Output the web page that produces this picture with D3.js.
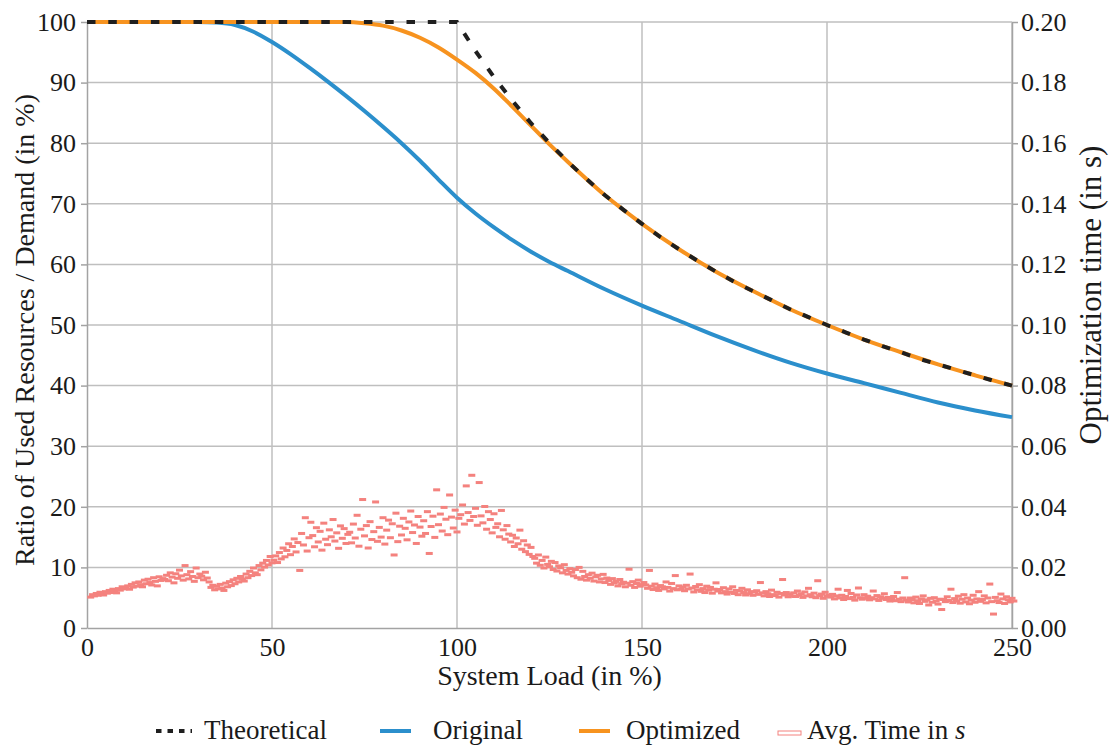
<!DOCTYPE html>
<html>
<head>
<meta charset="utf-8">
<script src="https://cdn.jsdelivr.net/npm/d3@7"></script>
<style>
  body { margin: 0; background: #fff; }
  svg { display: block; }
</style>
</head>
<body>
<svg id="chart" width="1111" height="747"></svg>
<script>
// ---- data ----
var loadTicks = [0, 50, 100, 150, 200, 250];
var ratioTicks = [0, 10, 20, 30, 40, 50, 60, 70, 80, 90, 100];
var timeTicks = [0, 0.02, 0.04, 0.06, 0.08, 0.10, 0.12, 0.14, 0.16, 0.18, 0.20];

var theoreticalLoad = [0, 100, 105, 110, 115, 120, 125, 130, 135, 140, 145, 150, 155, 160, 165, 170, 175, 180, 185, 190, 195, 200, 205, 210, 215, 220, 225, 230, 235, 240, 245, 250];
var theoreticalRatio = [100, 100, 95.2, 90.9, 87.0, 83.3, 80.0, 76.9, 74.1, 71.4, 69.0, 66.7, 64.5, 62.5, 60.6, 58.8, 57.1, 55.6, 54.1, 52.6, 51.3, 50.0, 48.8, 47.6, 46.5, 45.5, 44.4, 43.5, 42.6, 41.7, 40.8, 40.0];

var originalLoad = [0, 30, 35, 40, 45, 50, 55, 60, 65, 70, 75, 80, 85, 90, 95, 100, 105, 110, 115, 120, 125, 130, 140, 150, 160, 170, 180, 190, 200, 210, 220, 230, 240, 250];
var originalRatio = [100, 100, 99.9, 99.5, 98.4, 96.7, 94.7, 92.5, 90.2, 87.8, 85.3, 82.7, 80.0, 77.1, 74.0, 71.0, 68.4, 66.1, 64.0, 62.1, 60.4, 58.9, 55.9, 53.2, 50.7, 48.2, 45.9, 43.8, 42.0, 40.4, 38.8, 37.2, 35.9, 34.8];

var optimizedLoad = [0, 70, 75, 80, 85, 90, 95, 100, 105, 110, 115, 120, 125, 130, 140, 150, 160, 170, 180, 190, 200, 210, 220, 230, 240, 250];
var optimizedRatio = [100, 100, 99.8, 99.4, 98.6, 97.4, 95.8, 93.8, 91.6, 89.0, 86.0, 82.9, 79.8, 76.9, 71.4, 66.7, 62.5, 58.8, 55.6, 52.6, 50.0, 47.6, 45.5, 43.5, 41.7, 40.0];

// avg. optimization time in ms, one sample every 0.5 % load starting at 1 %
var avgTimeStart = 1, avgTimeStep = 0.5;
var avgTimeMs = [
  10.2, 11.0, 10.6, 11.4, 10.8, 11.8, 11.2, 10.9, 12.0, 11.5, 12.4, 11.7, 12.8, 12.1, 11.6, 13.0, 12.5, 13.6, 12.9, 13.3,
  13.9, 12.8, 14.4, 13.5, 14.9, 13.8, 15.2, 14.3, 13.6, 15.8, 14.6, 16.1, 15.0, 14.2, 16.6, 15.4, 13.9, 16.9, 15.7, 16.3,
  16.0, 17.4, 15.6, 18.2, 16.8, 14.9, 17.9, 16.4, 19.1, 17.2, 15.8, 20.6, 17.6, 16.2, 18.6, 17.0, 15.4, 19.8, 16.6, 17.8,
  17.1, 15.9, 18.4, 16.5, 15.2, 13.4, 14.1, 12.6, 13.8, 12.9, 14.4, 13.2, 12.4, 14.8, 13.6, 15.3, 14.0, 15.9, 14.6, 16.4,
  15.2, 17.0, 16.1, 15.5, 17.8, 16.6, 18.7, 17.3, 19.8, 18.2, 17.6, 20.6, 19.2, 21.4, 20.1, 22.3, 20.8, 23.6, 21.5, 22.4,
  23.8, 21.6, 24.9, 22.8, 26.4, 23.5, 25.6, 27.8, 24.2, 26.9, 29.4, 25.1, 28.2, 19.0, 31.2, 27.4, 36.4, 25.4, 29.8, 34.9,
  30.5, 26.8, 33.1, 28.4, 31.9, 25.7, 34.6, 29.3, 27.5, 32.4, 30.1, 35.8, 28.7, 31.4, 26.3, 33.7, 29.6, 32.8, 27.9, 30.9,
  31.6, 28.1, 34.3, 29.7, 37.2, 27.0, 32.6, 42.4, 30.4, 33.8, 26.4, 35.1, 29.2, 31.8, 41.6, 28.6, 33.2, 30.0, 36.4, 27.7,
  32.3, 35.6, 29.8, 34.4, 24.1, 37.9, 28.5, 33.6, 30.7, 36.2, 32.9, 29.1, 35.0, 38.6, 31.5, 34.0, 27.9, 36.8, 33.3, 30.3,
  35.4, 31.2, 38.4, 24.6, 33.5, 36.9, 29.9, 45.6, 34.1, 37.6, 32.0, 39.8, 35.9, 30.8, 43.9, 36.6, 33.0, 38.9, 31.7, 36.2,
  37.4, 40.6, 34.3, 46.9, 38.1, 35.5, 50.4, 36.8, 39.5, 33.9, 48.0, 37.0, 34.7, 40.1, 32.6, 38.4, 35.8, 31.4, 37.7, 33.2,
  34.4, 30.1, 38.8, 32.4, 29.3, 33.8, 31.0, 28.4, 30.6, 26.9, 29.7, 27.8, 32.3, 26.0, 28.8, 25.2, 27.4, 24.3, 26.6, 23.6,
  23.0, 21.4, 24.1, 20.7, 22.3, 19.8, 23.4, 21.0, 20.2, 22.0, 19.3, 21.6, 18.8, 20.5, 19.9, 18.2, 20.9, 19.0, 17.8, 19.6,
  18.4, 17.2, 19.3, 16.6, 20.0, 16.1, 18.7, 17.0, 15.8, 17.6, 16.4, 18.1, 15.5, 16.9, 17.4, 15.2, 16.2, 17.7, 15.0, 16.5,
  15.7, 14.4, 16.3, 14.9, 15.4, 13.9, 16.0, 14.6, 15.1, 13.6, 14.8, 19.4, 14.1, 15.3, 13.4, 14.7, 15.8, 13.8, 14.3, 15.0,
  14.2, 13.1, 19.0, 13.8, 12.7, 14.5, 13.3, 12.4, 14.0, 13.6, 12.9, 15.2, 13.4, 12.2, 14.7, 13.0, 17.3, 12.6, 13.9, 12.8,
  13.5, 12.3, 14.1, 12.9, 17.8, 13.2, 11.9, 13.7, 12.6, 14.3, 12.1, 13.0, 11.7, 13.8, 12.5, 13.4, 11.5, 12.8, 14.9, 12.2,
  12.7, 11.6, 13.3, 12.0, 11.2, 12.9, 11.8, 13.6, 11.4, 12.4, 11.0, 12.2, 13.1, 11.7, 10.9, 12.6, 11.3, 12.0, 10.8, 11.9,
  12.3, 11.1, 15.0, 11.6, 10.6, 12.0, 11.3, 10.4, 12.5, 11.0, 10.7, 11.8, 10.2, 11.4, 16.0, 10.9, 11.7, 10.3, 11.2, 10.5,
  11.6, 10.4, 12.2, 10.8, 11.3, 10.1, 11.9, 10.6, 13.1, 11.0, 10.3, 11.5, 10.0, 15.6, 10.7, 11.2, 9.8, 11.8, 10.5, 10.9,
  10.2, 11.1, 9.6, 10.6, 12.8, 9.9, 10.8, 9.4, 10.4, 12.4, 9.7, 11.4, 10.1, 9.2, 10.9, 13.2, 10.0, 9.5, 11.0, 9.8,
  10.5, 9.3, 10.0, 12.2, 9.6, 10.7, 9.1, 10.3, 9.8, 11.3, 9.4, 10.1, 8.9, 9.7, 10.4, 9.0, 11.7, 9.5, 8.7, 9.9,
  16.6, 9.2, 8.6, 9.9, 9.4, 8.3, 10.2, 9.0, 8.1, 9.6, 10.6, 8.8, 9.3, 7.6, 9.8, 8.5, 10.0, 8.9, 7.9, 9.5,
  6.1, 9.4, 8.7, 10.3, 9.1, 12.8, 8.4, 9.7, 8.9, 10.5, 8.2, 9.5, 11.0, 8.6, 9.9, 8.0, 9.2, 10.8, 8.5, 9.6,
  12.0, 8.8, 9.4, 10.6, 8.3, 9.9, 14.5, 8.7, 4.6, 10.1, 9.0, 8.4, 11.2, 9.6, 8.1, 10.3, 9.3, 8.6, 9.8, 8.9
];

var serif = 'Liberation Serif, Tinos, Times New Roman, Times, Nimbus Roman, FreeSerif, DejaVu Serif, serif';
var svg = d3.select('#chart').style('font-family', serif);
var plot = {left: 87, right: 1012, top: 22, bottom: 628};

var x = d3.scaleLinear().domain([0, 250]).range([plot.left, plot.right]);
var y = d3.scaleLinear().domain([0, 100]).range([plot.bottom, plot.top]);
var yTime = d3.scaleLinear().domain([0, 0.2]).range([plot.bottom, plot.top]);

var gridColor = '#bfbfbf', axisColor = '#a3a3a3', textColor = '#1a1a1a';

// grid
svg.append('g')
  .selectAll('line')
  .data(ratioTicks.filter(function(d){ return d > 0; }))
  .join('line')
  .attr('x1', plot.left).attr('x2', plot.right)
  .attr('y1', function(d){ return y(d); }).attr('y2', function(d){ return y(d); })
  .attr('stroke', gridColor).attr('stroke-width', 1.5);

svg.append('g')
  .selectAll('line')
  .data(loadTicks.filter(function(d){ return d > 0; }))
  .join('line')
  .attr('x1', function(d){ return x(d); }).attr('x2', function(d){ return x(d); })
  .attr('y1', plot.top).attr('y2', plot.bottom)
  .attr('stroke', gridColor).attr('stroke-width', 1.5);

// axes
function styleAxis(g, size) {
  g.attr('font-family', null).attr('font-size', size);
  g.selectAll('.domain').attr('stroke', axisColor).attr('stroke-width', 1.5);
  g.selectAll('.tick line').attr('stroke', axisColor).attr('stroke-width', 1.5);
  g.selectAll('.tick text').attr('fill', textColor).style('font-family', serif);
}

svg.append('g')
  .attr('transform', 'translate(' + plot.left + ',0)')
  .call(d3.axisLeft(y).tickValues(ratioTicks).tickSize(6).tickSizeOuter(0).tickPadding(5))
  .call(styleAxis, 26);

svg.append('g')
  .attr('transform', 'translate(' + plot.right + ',0)')
  .call(d3.axisRight(yTime).tickValues(timeTicks).tickFormat(d3.format('.2f')).tickSize(6).tickSizeOuter(0).tickPadding(3))
  .call(styleAxis, 26);

svg.append('g')
  .attr('transform', 'translate(0,' + plot.bottom + ')')
  .call(d3.axisBottom(x).tickValues(loadTicks).tickSize(0).tickSizeOuter(0).tickPadding(10))
  .call(styleAxis, 26);

// avg. time markers
var avgPoints = avgTimeMs.map(function(v, i){
  return {load: avgTimeStart + i * avgTimeStep, time: v / 1000};
});

svg.append('g')
  .selectAll('rect')
  .data(avgPoints)
  .join('rect')
  .attr('x', function(d){ return x(d.load) - 3.5; })
  .attr('y', function(d){ return yTime(d.time) - 1.5; })
  .attr('width', 7)
  .attr('height', 3)
  .attr('fill', '#f4827e');

// lines
function zipPts(xs, ys) {
  return xs.map(function(v, i){ return [v, ys[i]]; });
}

var smooth = d3.line()
  .x(function(d){ return x(d[0]); })
  .y(function(d){ return y(d[1]); })
  .curve(d3.curveMonotoneX);

var straight = d3.line()
  .x(function(d){ return x(d[0]); })
  .y(function(d){ return y(d[1]); });

svg.append('path')
  .datum(zipPts(originalLoad, originalRatio))
  .attr('d', smooth)
  .attr('fill', 'none').attr('stroke', '#2b8fcc').attr('stroke-width', 4);

svg.append('path')
  .datum(zipPts(optimizedLoad, optimizedRatio))
  .attr('d', smooth)
  .attr('fill', 'none').attr('stroke', '#f7931f').attr('stroke-width', 4);

svg.append('path')
  .datum(zipPts(theoreticalLoad, theoreticalRatio))
  .attr('d', straight)
  .attr('fill', 'none').attr('stroke', '#1f1f1f').attr('stroke-width', 4)
  .attr('stroke-dasharray', '8.5,12.8');

// axis titles
function addText(sel) {
  return sel.append('text').attr('fill', textColor).style('font-family', serif);
}

addText(svg)
  .attr('x', (plot.left + plot.right) / 2).attr('y', 685)
  .attr('text-anchor', 'middle').attr('font-size', 28)
  .text('System Load (in %)');

addText(svg)
  .attr('transform', 'translate(34,330) rotate(-90)')
  .attr('text-anchor', 'middle').attr('font-size', 28)
  .text('Ratio of Used Resources / Demand (in %)');

addText(svg)
  .attr('transform', 'translate(1101,295) rotate(-90)')
  .attr('text-anchor', 'middle').attr('font-size', 31)
  .text('Optimization time (in s)');

// legend
var legY = 731, legBase = 739;
var legend = svg.append('g');

legend.append('line')
  .attr('x1', 156).attr('x2', 192).attr('y1', legY).attr('y2', legY)
  .attr('stroke', '#1f1f1f').attr('stroke-width', 4).attr('stroke-dasharray', '5.5,6');
addText(legend).attr('x', 204).attr('y', legBase).attr('font-size', 27).text('Theoretical');

legend.append('line')
  .attr('x1', 380).attr('x2', 411).attr('y1', legY).attr('y2', legY)
  .attr('stroke', '#2b8fcc').attr('stroke-width', 4);
addText(legend).attr('x', 433).attr('y', legBase).attr('font-size', 27).text('Original');

legend.append('line')
  .attr('x1', 579).attr('x2', 610).attr('y1', legY).attr('y2', legY)
  .attr('stroke', '#f7931f').attr('stroke-width', 4);
addText(legend).attr('x', 626).attr('y', legBase).attr('font-size', 27).text('Optimized');

legend.append('rect')
  .attr('x', 778).attr('y', 731).attr('width', 23).attr('height', 4)
  .attr('fill', '#fff').attr('stroke', '#f4827e').attr('stroke-width', 1);
var avgLabel = addText(legend).attr('x', 807).attr('y', legBase).attr('font-size', 27);
avgLabel.append('tspan').text('Avg. Time in ');
avgLabel.append('tspan').attr('font-style', 'italic').text('s');
</script>
</body>
</html>
